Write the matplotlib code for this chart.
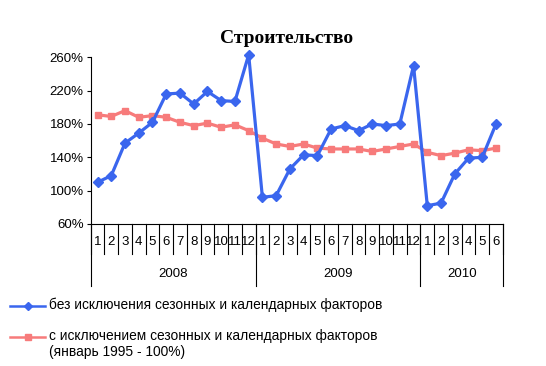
#!/usr/bin/env python3
"""Construction index chart: raw vs seasonally adjusted, 2008-2010."""

import matplotlib.pyplot as plt
from matplotlib.lines import Line2D
import numpy as np

plt.rcParams["font.family"] = ["Liberation Sans", "DejaVu Sans"]

YEARS = ["2008", "2009", "2010"]
MONTHS_PER_YEAR = [12, 12, 6]
MONTH_LABELS = [str(m) for n in MONTHS_PER_YEAR for m in range(1, n + 1)]

# values in percent
raw = [110, 118, 157, 169, 182, 216, 217, 204, 219, 208, 207, 263,
       92, 94, 126, 143, 142, 174, 178, 172, 180, 178, 180, 250,
       82, 85, 120, 139, 140, 180]
adjusted = [191, 189, 196, 188, 190, 188, 182, 178, 181, 176, 179, 172,
            163, 156, 153, 156, 151, 150, 150, 150, 147, 150, 153, 156,
            146, 142, 145, 149, 148, 151]

LABEL_RAW = "без исключения сезонных и календарных факторов"
LABEL_ADJ = "с исключением сезонных и календарных факторов\n(январь 1995 - 100%)"

BLUE = "#3a66ee"
PINK = "#f77b7b"


def legend_entry(fig, y_px, color, marker, msize, label):
    h = 366.0
    w = 546.0
    y = 1 - y_px / h
    fig.add_artist(Line2D([10 / w, 45 / w], [y, y], transform=fig.transFigure,
                          color=color, linewidth=1.8))
    fig.add_artist(Line2D([27.5 / w], [y], transform=fig.transFigure, color=color,
                          marker=marker, markersize=msize, linestyle="none"))
    fig.text(49 / w, y + 7.5 / h, label, ha="left", va="top", fontsize=9.9,
             linespacing=1.15)


def main() -> None:
    fig = plt.figure(figsize=(5.46, 3.66), dpi=100)
    ax = fig.add_axes([0.166, 0.388, 0.755, 0.4555])

    x = np.arange(len(raw))
    ax.plot(x, raw, color=BLUE, linewidth=2.3, marker="D", markersize=5,
            clip_on=False, zorder=4)
    ax.plot(x, adjusted, color=PINK, linewidth=2.3, marker="s", markersize=5,
            clip_on=False, zorder=3)

    ax.set_xlim(-0.5, len(raw) - 0.5)
    ax.set_ylim(60, 260)
    ax.set_yticks(range(60, 261, 40))
    ax.set_yticklabels([f"{v}%" for v in range(60, 261, 40)], fontsize=9.5)
    ax.tick_params(axis="y", length=3, width=0.8, pad=2)
    ax.set_xticks([])
    for side in ("top", "right"):
        ax.spines[side].set_visible(False)
    ax.spines["left"].set_linewidth(0.8)
    ax.spines["bottom"].set_linewidth(0.8)

    # two-level category axis
    trans = ax.get_xaxis_transform()
    for i, label in enumerate(MONTH_LABELS):
        ax.text(i, -0.11, label, transform=trans, ha="center", va="center", fontsize=9.5)
    for i in range(len(raw) + 1):
        ax.plot([i - 0.5, i - 0.5], [0, -0.18], transform=trans, color="black",
                linewidth=0.8, clip_on=False)
    start = 0
    for year, n in zip(YEARS, MONTHS_PER_YEAR):
        ax.plot([start - 0.5, start - 0.5], [0, -0.37], transform=trans, color="black",
                linewidth=0.8, clip_on=False)
        ax.text(start + n / 2 - 0.5, -0.30, year, transform=trans, ha="center",
                va="center", fontsize=9.5)
        start += n
    ax.plot([start - 0.5, start - 0.5], [0, -0.37], transform=trans, color="black",
            linewidth=0.8, clip_on=False)

    fig.text(0.525, 0.895, "Строительство", ha="center", va="center",
             fontsize=14, fontweight="bold", family="Liberation Serif")

    legend_entry(fig, 305.5, BLUE, "D", 4, LABEL_RAW)
    legend_entry(fig, 336.5, PINK, "s", 4.5, LABEL_ADJ)

    fig.savefig("out.png", dpi=100)
    plt.close(fig)


if __name__ == "__main__":
    main()
